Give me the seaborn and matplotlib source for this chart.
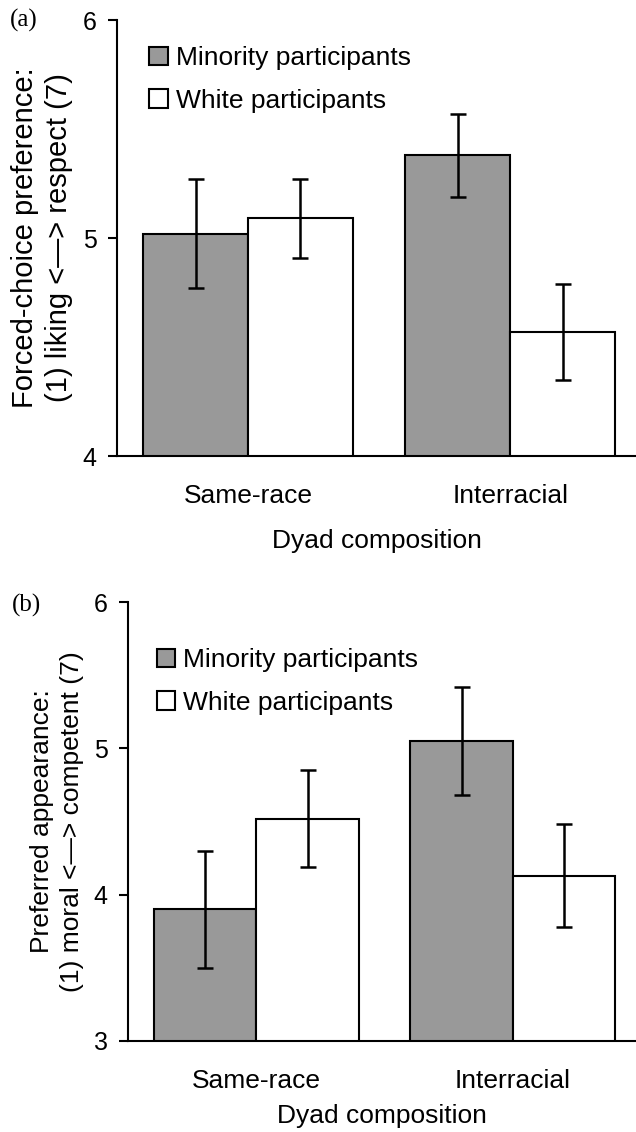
import pandas as pd
import seaborn as sns
import matplotlib.pyplot as plt

# Means and error half-widths
compositions = ['Same-race', 'Interracial']
groups = ['Minority participants', 'White participants']

# panel (a): forced-choice preference
a_minority = [5.02, 5.38]
a_white = [5.09, 4.57]
a_minority_err = [0.25, 0.19]
a_white_err = [0.18, 0.22]

# panel (b): preferred appearance
b_minority = [3.90, 5.05]
b_white = [4.52, 4.13]
b_minority_err = [0.40, 0.37]
b_white_err = [0.33, 0.35]

sns.set_theme(style='ticks')
plt.rcParams['font.family'] = ['Liberation Sans', 'DejaVu Sans']
plt.rcParams['axes.linewidth'] = 1.5
plt.rcParams['xtick.major.width'] = 1.5
plt.rcParams['ytick.major.width'] = 1.5
for key in ['text.color', 'axes.labelcolor', 'xtick.color', 'ytick.color',
            'axes.edgecolor', 'xtick.labelcolor', 'ytick.labelcolor']:
    plt.rcParams[key] = 'black'


def make_frame(minority, white, minority_err, white_err):
    return pd.DataFrame({
        'composition': compositions * 2,
        'group': [groups[0]] * 2 + [groups[1]] * 2,
        'mean': minority + white,
        'err': minority_err + white_err,
    })


def draw_panel(ax, df, ylim, yticks, ylabel, ylabel_size, xlabelpad, legend_anchor):
    sns.barplot(data=df, x='composition', y='mean', hue='group',
                palette=['#999999', 'white'], edgecolor='black',
                linewidth=1.5, errorbar=None, saturation=1, ax=ax)
    # error bars on top of the bars seaborn drew
    for cont, grp in zip(ax.containers, groups):
        sub = df[df['group'] == grp].set_index('composition').loc[compositions]
        xs = [b.get_x() + b.get_width() / 2 for b in cont]
        ys = [b.get_height() for b in cont]
        ax.errorbar(xs, ys, yerr=sub['err'].values, fmt='none',
                    ecolor='black', elinewidth=1.8, capsize=6, capthick=1.8)
    ax.set_ylim(*ylim)
    ax.set_yticks(yticks)
    ax.set_xlim(-0.5, 1.48)
    sns.despine(ax=ax)
    ax.tick_params(axis='x', length=0, pad=20, labelsize=19)
    ax.tick_params(axis='y', length=6.5, pad=8, labelsize=18)
    ax.set_xlabel('Dyad composition', fontsize=19, labelpad=xlabelpad)
    ax.set_ylabel(ylabel, fontsize=ylabel_size, labelpad=7, linespacing=1.3)
    handles, labels = ax.get_legend_handles_labels()
    ax.legend(handles, labels, loc='upper left', bbox_to_anchor=legend_anchor,
              frameon=False, borderpad=0, borderaxespad=0, fontsize=19,
              handlelength=0.7, handleheight=0.7, handletextpad=0.3,
              labelspacing=0.7)


fig = plt.figure(figsize=(6.36, 11.32), dpi=100)
ax_a = fig.add_axes([117 / 636, 1 - 456 / 1132, 519 / 636, 436 / 1132])
ax_b = fig.add_axes([128 / 636, 1 - 1041 / 1132, 508 / 636, 439 / 1132])

draw_panel(ax_a, make_frame(a_minority, a_white, a_minority_err, a_white_err),
           (4, 6), [4, 5, 6],
           'Forced-choice preference:\n(1) liking <\u2014> respect (7)', 21, 15,
           (0.062, 0.94))
draw_panel(ax_b, make_frame(b_minority, b_white, b_minority_err, b_white_err),
           (3, 6), [3, 4, 5, 6],
           'Preferred appearance:\n(1) moral <\u2014> competent (7)', 19, 8,
           (0.057, 0.895))

fig.text(10 / 636, 1 - 20 / 1132, '(a)', family=['Liberation Serif', 'DejaVu Serif'],
         fontsize=18, va='center', ha='left')
fig.text(12 / 636, 1 - 605 / 1132, '(b)', family=['Liberation Serif', 'DejaVu Serif'],
         fontsize=18, va='center', ha='left')

fig.savefig('out.png', dpi=100)
